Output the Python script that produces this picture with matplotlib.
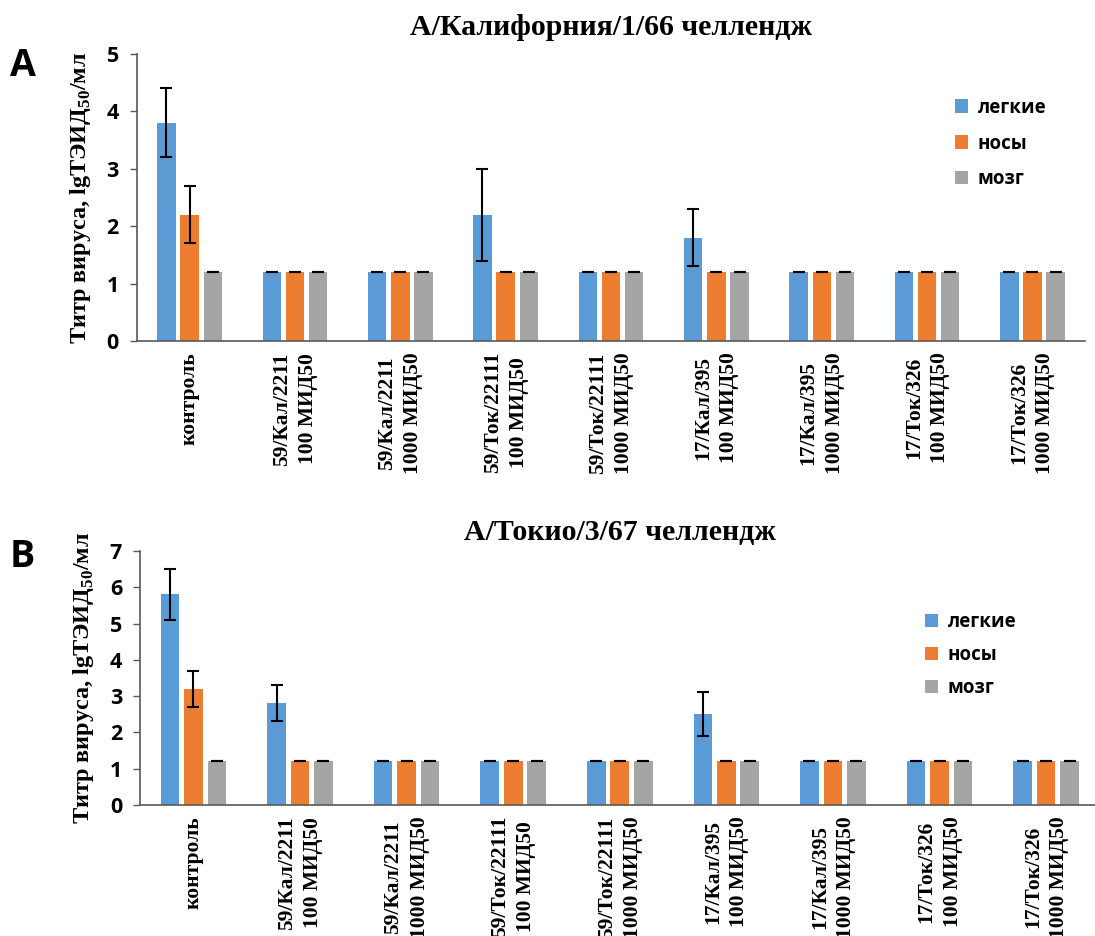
import numpy as np
import matplotlib.pyplot as plt

# Data
groups = ['контроль', '59/Кал/2211\n100 МИД50', '59/Кал/2211\n1000 МИД50',
          '59/Ток/22111\n100 МИД50', '59/Ток/22111\n1000 МИД50',
          '17/Кал/395\n100 МИД50', '17/Кал/395\n1000 МИД50',
          '17/Ток/326\n100 МИД50', '17/Ток/326\n1000 МИД50']
series = ['легкие', 'носы', 'мозг']
colors = ['#5b9bd5', '#ed7d31', '#a5a5a5']

# panel A: A/California/1/66
cal_lungs = [3.8, 1.2, 1.2, 2.2, 1.2, 1.8, 1.2, 1.2, 1.2]
cal_nose = [2.2, 1.2, 1.2, 1.2, 1.2, 1.2, 1.2, 1.2, 1.2]
cal_brain = [1.2, 1.2, 1.2, 1.2, 1.2, 1.2, 1.2, 1.2, 1.2]
cal_lungs_err = [0.6, 0, 0, 0.8, 0, 0.5, 0, 0, 0]
cal_nose_err = [0.5, 0, 0, 0, 0, 0, 0, 0, 0]
cal_brain_err = [0, 0, 0, 0, 0, 0, 0, 0, 0]

# panel B: A/Tokyo/3/67
tok_lungs = [5.8, 2.8, 1.2, 1.2, 1.2, 2.5, 1.2, 1.2, 1.2]
tok_nose = [3.2, 1.2, 1.2, 1.2, 1.2, 1.2, 1.2, 1.2, 1.2]
tok_brain = [1.2, 1.2, 1.2, 1.2, 1.2, 1.2, 1.2, 1.2, 1.2]
tok_lungs_err = [0.7, 0.5, 0, 0, 0, 0.6, 0, 0, 0]
tok_nose_err = [0.5, 0, 0, 0, 0, 0, 0, 0, 0]
tok_brain_err = [0, 0, 0, 0, 0, 0, 0, 0, 0]

serif = 'Liberation Serif'
sans = 'Open Sans'

plt.rcParams['mathtext.fontset'] = 'custom'
plt.rcParams['mathtext.rm'] = serif
plt.rcParams['mathtext.bf'] = serif + ':bold'

fig = plt.figure(figsize=(10.95, 9.36), dpi=100)


def panel(rect, vals, errs, ymax, title, title_pad, letter, letter_y,
          leg_pos, leg_space):
    ax = fig.add_axes(rect)
    x = np.arange(len(groups))
    w = 0.175
    offs = [-0.22, 0, 0.22]
    for i in range(3):
        ax.bar(x + offs[i], vals[i], w, color=colors[i], label=series[i],
               yerr=errs[i], capsize=4,
               error_kw=dict(ecolor='black', elinewidth=1.5, capthick=1.5))
    ax.set_xlim(-0.5, len(groups) - 0.5)
    ax.set_ylim(0, ymax)
    ax.set_yticks(range(ymax + 1))
    ax.set_xticks(x)
    ax.set_xticklabels(groups, rotation=90, va='top', ha='center',
                       multialignment='center', fontfamily=serif,
                       fontweight='bold', fontsize=15.5, linespacing=1.4)
    ax.tick_params(axis='x', length=0, pad=8)
    ax.tick_params(axis='y', length=5, width=1, color='#595959', pad=8)
    for lab in ax.get_yticklabels():
        lab.set_fontfamily(sans)
        lab.set_fontweight('bold')
        lab.set_fontsize(15.5)
    for s in ['top', 'right']:
        ax.spines[s].set_visible(False)
    for s in ['left', 'bottom']:
        ax.spines[s].set_color('#595959')
        ax.spines[s].set_linewidth(1.2)
    ax.set_ylabel('Титр вируса, lgТЭИД$_{\\mathbf{50}}$/мл', fontfamily=serif,
                  fontweight='bold', fontsize=17.5, labelpad=10)
    ax.set_title(title, fontfamily=serif, fontweight='bold', fontsize=21.5,
                 pad=title_pad)
    ax.legend(loc='upper left', bbox_to_anchor=leg_pos, frameon=False,
              prop=dict(family=sans, weight='bold', size=13.5),
              handlelength=0.7, handleheight=0.7, labelspacing=leg_space,
              handletextpad=0.5)
    fig.text(0.009, letter_y, letter, fontfamily=sans,
             fontweight='bold', fontsize=27, va='center')
    return ax


panel([0.125, 0.6357, 0.866, 0.3066],
      [cal_lungs, cal_nose, cal_brain],
      [cal_lungs_err, cal_nose_err, cal_brain_err], 5,
      'А/Калифорния/1/66 челлендж', 14, 'A', 0.930, (0.845, 0.907), 0.85)
panel([0.128, 0.140, 0.876, 0.2714],
      [tok_lungs, tok_nose, tok_brain],
      [tok_lungs_err, tok_nose_err, tok_brain_err], 7,
      'А/Токио/3/67 челлендж', 8, 'B', 0.405, (0.801, 0.827), 0.7)

fig.savefig('out.png', dpi=100)
